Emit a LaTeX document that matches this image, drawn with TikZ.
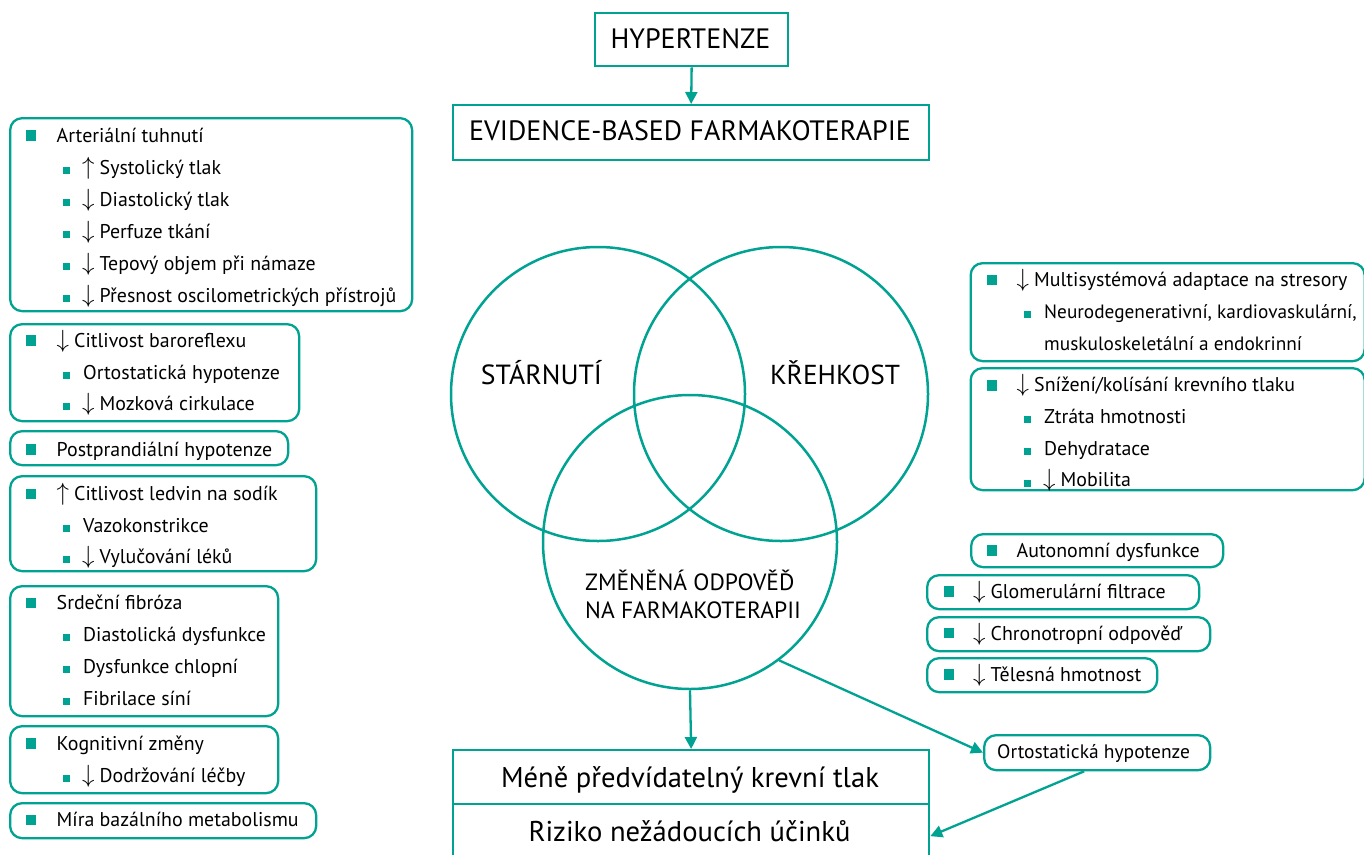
\documentclass[tikz,border=0pt]{standalone}
\usepackage{fontspec}
\setmainfont{PT Sans}
\usetikzlibrary{arrows.meta,calc}
\definecolor{teal1}{RGB}{0,162,145}
\newcommand\up{\makebox[17.5pt][l]{\fontsize{23}{23}\selectfont$\uparrow$}}
\newcommand\dn{\makebox[17.5pt][l]{\fontsize{23}{23}\selectfont$\downarrow$}}
\tikzset{
  lbox/.style={draw=teal1, line width=2.3pt, rounded corners=12pt, inner sep=0, anchor=north west},
  sqbox/.style={draw=teal1, line width=2.3pt, inner sep=0, anchor=north west},
  bigb/.style={fill=teal1, minimum size=10.5pt, inner sep=0},
  smb/.style={fill=teal1, minimum size=7pt, inner sep=0},
  txt/.style={anchor=base west, inner sep=0, font=\fontsize{19.9}{22}\selectfont},
  big/.style={anchor=base, inner sep=0, font=\fontsize{28}{30}\selectfont},
  conn/.style={draw=teal1, line width=2.3pt, -{Triangle[length=12pt,width=12pt]}},
  circ/.style={draw=teal1, line width=2.5pt, circle, minimum size=294pt, inner sep=0}
}
\begin{document}
\begin{tikzpicture}[x=1pt,y=-1pt]
\useasboundingbox (0,0) rectangle (1364,854);
% top boxes
\node[sqbox, minimum width=193pt, minimum height=53pt] (hyp) at (594,12) {};
\node[big] (hypt) at (690.5,48.5) {HYPERTENZE};
\node[sqbox, minimum width=476pt, minimum height=55pt] (ebf) at (452,104) {};
\node[big] (ebft) at (690,140.5) {EVIDENCE-BASED FARMAKOTERAPIE};
\draw[conn] (hyp.south) -- (ebf.north);
% circles
\node[circ] (c1) at (598,394) {};
\node[circ] (c2) at (781,394) {};
\node[circ] (c3) at (690,542) {};
\node[big, font=\fontsize{27.7}{30}\selectfont] (st) at (541.5,384) {STÁRNUTÍ};
\node[big, font=\fontsize{27.4}{30}\selectfont] (kr) at (835,384) {KŘEHKOST};
\node[txt, font=\fontsize{23.5}{26}\selectfont] (zm1) at (585,590) {ZMĚNĚNÁ ODPOVĚĎ};
\node[txt, font=\fontsize{23.5}{26}\selectfont] (zm2) at (585,618.5) {NA FARMAKOTERAPII};
% bottom boxes
\node[sqbox, minimum width=476pt, minimum height=54pt] (m1) at (452,749) {};
\node[sqbox, minimum width=476pt, minimum height=64pt] (m2) at (452,803) {};
\node[big, font=\fontsize{28.6}{30}\selectfont] (m1t) at (690,787) {Méně předvídatelný krevní tlak};
\node[big, font=\fontsize{28.6}{30}\selectfont] (m2t) at (689.5,841.5) {Riziko nežádoucích účinků};
\draw[conn] (c3.south) -- (m1.north);
% ortostaticka
\node[lbox, minimum width=226pt, minimum height=35pt] (ort) at (983,734) {};
\node[txt, font=\fontsize{19.5}{22}\selectfont] (ortt) at (997,758.5) {Ortostatická hypotenze};
\draw[conn] (c3.-53) -- (ort.west);
\draw[conn] ([xshift=-13pt]ort.south) -- (m2.east);
% left column
\node[lbox, minimum width=402pt, minimum height=193pt] (L1) at (9,117) {};
\node[bigb] at (31,135.5) {};
\node[txt] at (56.5,142) {Arteriální tuhnutí};
\node[smb] at (66.5,170) {}; \node[txt] at (82,174) {\up Systolický tlak};
\node[smb] at (66.5,202) {}; \node[txt] at (82,206) {\dn Diastolický tlak};
\node[smb] at (66.5,234) {}; \node[txt] at (82,238) {\dn Perfuze tkání};
\node[smb] at (66.5,266) {}; \node[txt] at (82,270) {\dn Tepový objem při námaze};
\node[smb] at (66.5,298) {}; \node[txt] at (82,302) {\dn Přesnost oscilometrických přístrojů};

\node[lbox, minimum width=289pt, minimum height=97pt] (L2) at (9,323) {};
\node[bigb] at (31,340.5) {};
\node[txt] at (56.5,347) {\dn Citlivost baroreflexu};
\node[smb] at (66.5,375) {}; \node[txt] at (83,379) {Ortostatická hypotenze};
\node[smb] at (66.5,406) {}; \node[txt] at (82,410) {\dn Mozková cirkulace};

\node[lbox, minimum width=278pt, minimum height=34pt] (L3) at (9,430) {};
\node[bigb] at (31,449.5) {};
\node[txt] at (56.5,456) {Postprandiální hypotenze};

\node[lbox, minimum width=306pt, minimum height=95pt] (L4) at (9,475) {};
\node[bigb] at (31,494) {};
\node[txt] at (56.5,500.5) {\up Citlivost ledvin na sodík};
\node[smb] at (66.5,528) {}; \node[txt] at (83,532) {Vazokonstrikce};
\node[smb] at (66.5,559) {}; \node[txt] at (82,563) {\dn Vylučování léků};

\node[lbox, minimum width=268pt, minimum height=130pt] (L5) at (9,585) {};
\node[bigb] at (31,603) {};
\node[txt] at (56.5,609.5) {Srdeční fibróza};
\node[smb] at (66.5,637) {}; \node[txt] at (83,641) {Diastolická dysfunkce};
\node[smb] at (66.5,669) {}; \node[txt] at (83,673) {Dysfunkce chlopní};
\node[smb] at (66.5,701) {}; \node[txt] at (83,705) {Fibrilace síní};

\node[lbox, minimum width=268pt, minimum height=67pt] (L6) at (9,725) {};
\node[bigb] at (31,743.5) {};
\node[txt] at (56.5,750) {Kognitivní změny};
\node[smb] at (66.5,778) {}; \node[txt] at (82,782) {\dn Dodržování léčby};

\node[lbox, minimum width=306pt, minimum height=35pt] (L7) at (9,802) {};
\node[bigb] at (31,820) {};
\node[txt] at (56.5,826.5) {Míra bazálního metabolismu};

% right column
\node[lbox, minimum width=394pt, minimum height=98pt] (R1) at (969.5,262) {};
\node[bigb] at (992,280) {};
\node[txt] at (1016.5,286.5) {\dn Multisystémová adaptace na stresory};
\node[smb] at (1027,314) {}; \node[txt, font=\fontsize{19.3}{22}\selectfont] at (1044,318.5) {Neurodegenerativní, kardiovaskulární,};
\node[txt, font=\fontsize{19.3}{22}\selectfont] at (1044,350) {muskuloskeletální a endokrinní};

\node[lbox, minimum width=394pt, minimum height=122pt] (R2) at (969.5,367) {};
\node[bigb] at (992,385.5) {};
\node[txt] at (1016.5,391.5) {\dn Snížení/kolísání krevního tlaku};
\node[smb] at (1027,419) {}; \node[txt] at (1044,423.5) {Ztráta hmotnosti};
\node[smb] at (1027,451) {}; \node[txt] at (1044,455) {Dehydratace};
\node[smb] at (1027,483) {}; \node[txt] at (1043,486.5) {\dn Mobilita};

\node[lbox, minimum width=252pt, minimum height=33pt] (R3) at (970,533) {};
\node[bigb] at (992,550.5) {};
\node[txt] at (1016.5,557.5) {Autonomní dysfunkce};

\node[lbox, minimum width=272pt, minimum height=34pt] (R4) at (926,574) {};
\node[bigb] at (949,591.5) {};
\node[txt] at (973,598.5) {\dn Glomerulární filtrace};

\node[lbox, minimum width=283pt, minimum height=34pt] (R5) at (926,616) {};
\node[bigb] at (949,633) {};
\node[txt] at (973,640) {\dn Chronotropní odpověď};

\node[lbox, minimum width=230pt, minimum height=34pt] (R6) at (926,657) {};
\node[bigb] at (949,674.5) {};
\node[txt] at (973,681.5) {\dn Tělesná hmotnost};
\end{tikzpicture}
\end{document}
